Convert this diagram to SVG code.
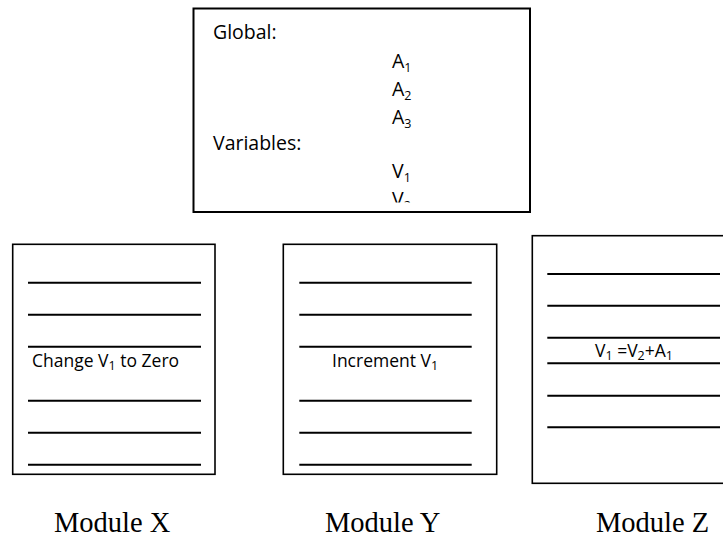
<svg xmlns="http://www.w3.org/2000/svg" width="723" height="538" viewBox="0 0 723 538">
<style>
.box{fill:#fff;stroke:#000;stroke-width:1.6}
.ln{stroke:#000;stroke-width:2}
.t{font-family:"Open Sans","Liberation Sans",sans-serif;fill:#000}
.tb{font-size:19.5px}
.tm{font-size:17.5px}
.sub{font-size:12.5px}
.lab{font-family:"Liberation Serif","Times New Roman",serif;font-size:28.5px;fill:#000}
</style>
<defs>
<clipPath id="clipG"><rect x="193" y="8" width="337" height="194.5"/></clipPath>
</defs>
<rect width="723" height="538" fill="#fff"/>
<g id="global">
<rect class="box" x="193.5" y="8.5" width="336.5" height="203.5" style="stroke-width:2"/>
<g clip-path="url(#clipG)" class="t tb">
<text x="213" y="39">Global:</text>
<text x="392" y="67.5">A<tspan class="sub" dy="4">1</tspan></text>
<text x="392" y="96">A<tspan class="sub" dy="4">2</tspan></text>
<text x="392" y="124">A<tspan class="sub" dy="4">3</tspan></text>
<text x="213" y="150">Variables:</text>
<text x="392" y="178">V<tspan class="sub" dy="4">1</tspan></text>
<text x="392" y="206">V<tspan class="sub" dy="4">2</tspan></text>
</g>
</g>
<g id="moduleX">
<rect class="box" x="12.7" y="244.3" width="202.3" height="230"/>
<line class="ln" x1="28" y1="282.7" x2="201" y2="282.7"/>
<line class="ln" x1="28" y1="314.7" x2="201" y2="314.7"/>
<line class="ln" x1="28" y1="346.7" x2="201" y2="346.7"/>
<line class="ln" x1="28" y1="400.7" x2="201" y2="400.7"/>
<line class="ln" x1="28" y1="432.7" x2="201" y2="432.7"/>
<line class="ln" x1="28" y1="464.7" x2="201" y2="464.7"/>
<text class="t tm" x="32" y="366.5">Change V<tspan class="sub" dy="3">1</tspan><tspan dy="-3"> to Zero</tspan></text>
<text class="lab" x="54" y="532">Module X</text>
</g>
<g id="moduleY">
<rect class="box" x="283.3" y="244.3" width="213.4" height="230"/>
<line class="ln" x1="299.3" y1="282.7" x2="471.7" y2="282.7"/>
<line class="ln" x1="299.3" y1="314.7" x2="471.7" y2="314.7"/>
<line class="ln" x1="299.3" y1="346.7" x2="471.7" y2="346.7"/>
<line class="ln" x1="299.3" y1="400.7" x2="471.7" y2="400.7"/>
<line class="ln" x1="299.3" y1="432.7" x2="471.7" y2="432.7"/>
<line class="ln" x1="299.3" y1="464.7" x2="471.7" y2="464.7"/>
<text class="t tm" x="332" y="366.5">Increment V<tspan class="sub" dy="3">1</tspan></text>
<text class="lab" x="325" y="532">Module Y</text>
</g>
<g id="moduleZ">
<rect class="box" x="532.3" y="235.7" width="200" height="247.6"/>
<line class="ln" x1="547.3" y1="274" x2="720" y2="274"/>
<line class="ln" x1="547.3" y1="305.7" x2="720" y2="305.7"/>
<line class="ln" x1="547.3" y1="337.7" x2="720" y2="337.7"/>
<line class="ln" x1="547.3" y1="363.3" x2="720" y2="363.3"/>
<line class="ln" x1="547.3" y1="395.7" x2="720" y2="395.7"/>
<line class="ln" x1="547.3" y1="427.3" x2="720" y2="427.3"/>
<text class="t tm" x="595" y="357">V<tspan class="sub" dy="3">1</tspan><tspan dy="-3"> =V</tspan><tspan class="sub" dy="3">2</tspan><tspan dy="-3">+A</tspan><tspan class="sub" dy="3">1</tspan></text>
<text class="lab" x="596" y="532">Module Z</text>
</g>
<g id="connectors"/>
</svg>
